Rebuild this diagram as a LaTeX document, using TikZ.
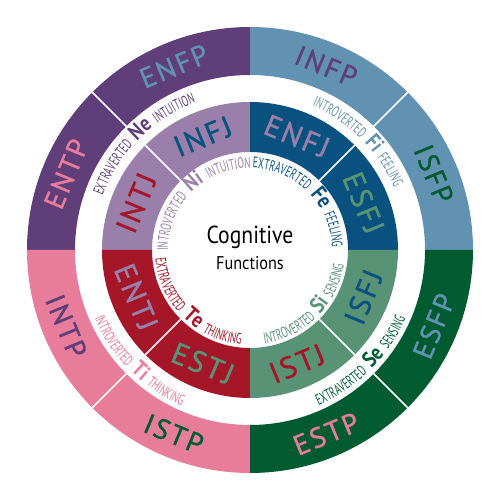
\documentclass[tikz,border=0pt]{standalone}
\usepackage{fontspec}
\setmainfont{PT Sans}[FakeStretch=0.88]
\newfontfamily\condfont{PT Sans}[FakeStretch=0.62, WordSpace=2.2]
\newfontfamily\funcfont{PT Sans Bold}[FakeStretch=0.85]
\newfontfamily\typefont{PT Sans}[LetterSpace=8, FakeBold=1.2]
\usetikzlibrary{decorations.text}
\definecolor{nepurple}{RGB}{95,62,122}
\definecolor{fiblue}{RGB}{98,146,178}
\definecolor{tipink}{RGB}{232,124,155}
\definecolor{segreen}{RGB}{0,92,48}
\definecolor{nililac}{RGB}{154,127,170}
\definecolor{feblue}{RGB}{9,82,128}
\definecolor{tered}{RGB}{165,22,40}
\definecolor{sigreen}{RGB}{88,147,118}
\newcommand{\tinyword}{\condfont\fontsize{8.6}{9}\selectfont}
\newcommand{\bigfunc}{\funcfont\fontsize{12.5}{12.5}\selectfont}
\begin{document}
\begin{tikzpicture}[scale=0.02,
  typelabel/.style={font=\typefont\fontsize{16}{16}\selectfont, inner sep=0pt},
  centerlabel/.style={inner sep=0pt, text=black},
  divider/.style={white, line width=0.9pt},
  funcpath/.style={decorate, decoration={text along path, text align=center, text color=#1}}]
  \useasboundingbox (-250,-250) rectangle (250,250);
  % Outer ring
  \foreach \a/\col in {90/nepurple, 0/fiblue, 180/tipink, 270/segreen}{
    \fill[\col] (\a:175) arc (\a:\a+90:175) -- (\a+90:223) arc (\a+90:\a:223) -- cycle;
  }
  % Inner ring
  \foreach \a/\col in {90/nililac, 0/feblue, 180/tered, 270/sigreen}{
    \fill[\col] (\a:98) arc (\a:\a+90:98) -- (\a+90:148) arc (\a+90:\a:148) -- cycle;
  }
  % Dividers
  \foreach \a in {45,135,225,315}{
    \draw[divider] (\a:175) -- (\a:223);
    \draw[divider] (\a:98) -- (\a:148);
  }
  % Outer types
  \foreach \name/\ang/\rot/\col in {ENFP/112.5/22.5/fiblue, ENTP/157.5/67.5/tipink,
      INFP/67.5/-22.5/nepurple, ISFP/22.5/-67.5/segreen,
      INTP/202.5/-67.5/nepurple, ISTP/247.5/-22.5/segreen,
      ESTP/292.5/22.5/tipink, ESFP/337.5/67.5/fiblue}{
    \node[typelabel, text=\col, rotate=\rot] (\name) at (\ang:199) {\name};
  }
  % Inner types
  \foreach \name/\ang/\rot/\col in {INFJ/112.5/22.5/feblue, INTJ/157.5/67.5/tered,
      ENFJ/67.5/-22.5/nililac, ESFJ/22.5/-67.5/sigreen,
      ENTJ/202.5/-67.5/nililac, ESTJ/247.5/-22.5/sigreen,
      ISTJ/292.5/22.5/tered, ISFJ/337.5/67.5/feblue}{
    \node[typelabel, text=\col, rotate=\rot, font=\typefont\fontsize{17}{17}\selectfont] (\name) at (\ang:123) {\name};
  }
  % Functions between the rings
  \path[funcpath=nepurple, decoration={text={|\tinyword|EXTRAVERTED |\bigfunc|Ne|\tinyword| INTUITION}}]
    (180:157) arc (180:90:157);
  \path[funcpath=fiblue, decoration={text={|\tinyword|INTROVERTED |\bigfunc|Fi|\tinyword| FEELING}}]
    (90:157) arc (90:0:157);
  \path[funcpath=tipink, decoration={text={|\tinyword|INTROVERTED |\bigfunc|Ti|\tinyword| THINKING}}]
    (180:170) arc (180:270:170);
  \path[funcpath=segreen, decoration={text={|\tinyword|EXTRAVERTED |\bigfunc|Se|\tinyword| SENSING}}]
    (270:170) arc (270:360:170);
  % Functions inside the disk
  \path[funcpath=nililac, decoration={text={|\tinyword|INTROVERTED |\bigfunc|Ni|\tinyword| INTUITION}}]
    (180:82) arc (180:90:82);
  \path[funcpath=feblue, decoration={text={|\tinyword|EXTRAVERTED |\bigfunc|Fe|\tinyword| FEELING}}]
    (90:82) arc (90:0:82);
  \path[funcpath=tered, decoration={text={|\tinyword|EXTRAVERTED |\bigfunc|Te|\tinyword| THINKING}}]
    (180:95) arc (180:270:95);
  \path[funcpath=sigreen, decoration={text={|\tinyword|INTROVERTED |\bigfunc|Si|\tinyword| SENSING}}]
    (270:95) arc (270:360:95);
  % Centre
  \node[centerlabel, font=\fontsize{14}{14}\selectfont] (cognitive) at (0,13) {Cognitive};
  \node[centerlabel, font=\fontsize{10.5}{10.5}\selectfont] (functions) at (0,-13) {Functions};
\end{tikzpicture}
\end{document}
